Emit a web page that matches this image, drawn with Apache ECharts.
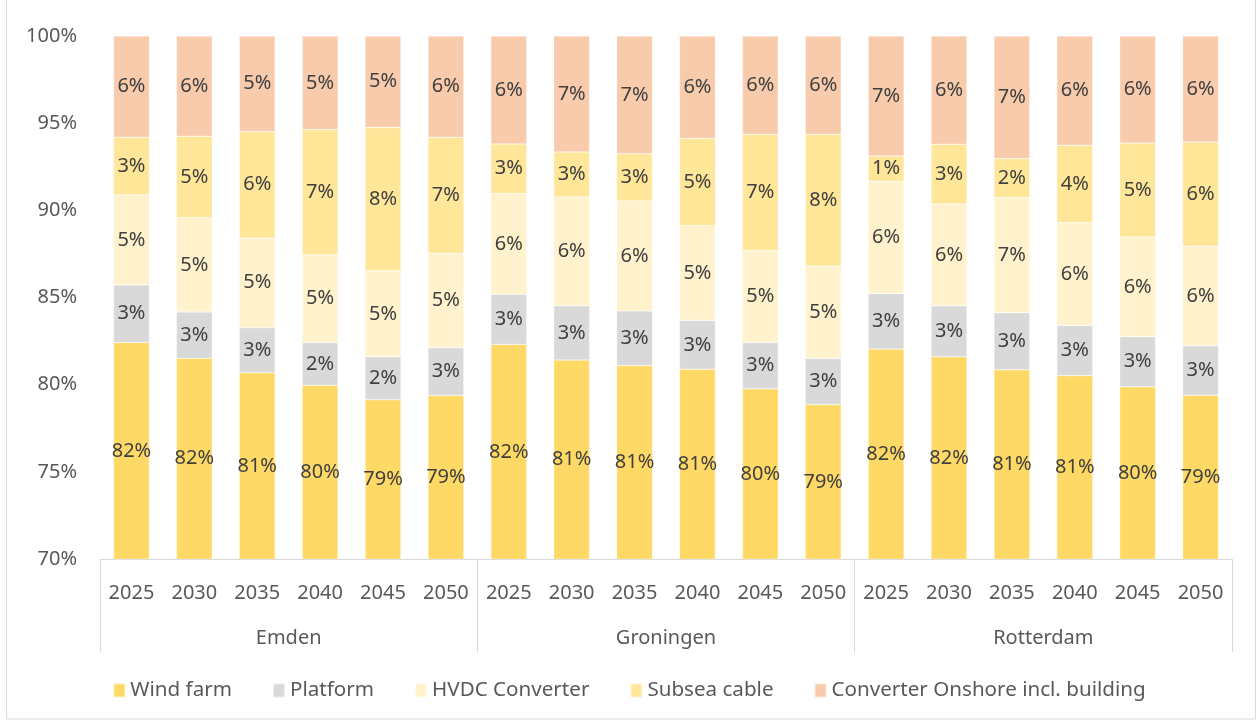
<!DOCTYPE html>
<html>
<head>
<meta charset="utf-8">
<script src="https://cdn.jsdelivr.net/npm/echarts@6/dist/echarts.min.js"></script>
<style>
  html, body { margin: 0; padding: 0; background: #fff; }
  #chart { width: 1258px; height: 722px; }
</style>
</head>
<body>
<div id="chart"></div>
<script>
// Cost share by component (%), per landing point and year
const years = ['2025', '2030', '2035', '2040', '2045', '2050'];
const sites = ['Emden', 'Groningen', 'Rotterdam'];
const yTicks = { min: 70, max: 100, step: 5 };

//                Emden ........................................  Groningen ....................................  Rotterdam ....................................
const windFarm   = [82.42, 81.52, 80.69, 79.96, 79.13, 79.38,  82.31, 81.41, 81.10, 80.89, 79.76, 78.86,  82.04, 81.60, 80.85, 80.52, 79.88, 79.40];
const platform   = [ 3.30,  2.65,  2.58,  2.46,  2.47,  2.74,   2.88,  3.11,  3.13,  2.79,  2.66,  2.64,   3.18,  2.92,  3.27,  2.87,  2.87,  2.83];
const hvdc       = [ 5.16,  5.41,  5.15,  5.02,  4.93,  5.42,   5.77,  6.25,  6.31,  5.44,  5.27,  5.31,   6.45,  5.85,  6.61,  5.91,  5.72,  5.71];
const subsea     = [ 3.31,  4.67,  6.10,  7.19,  8.23,  6.65,   2.85,  2.58,  2.71,  5.01,  6.67,  7.55,   1.44,  3.42,  2.24,  4.43,  5.39,  5.98];
const onshore    = [ 5.81,  5.75,  5.48,  5.37,  5.24,  5.81,   6.19,  6.65,  6.75,  5.87,  5.64,  5.64,   6.89,  6.21,  7.03,  6.27,  6.14,  6.08];

const seriesDefs = [
  { name: 'Wind farm', data: windFarm, color: '#FFD966' },
  { name: 'Platform', data: platform, color: '#D9D9D9' },
  { name: 'HVDC Converter', data: hvdc, color: '#FFF2CC' },
  { name: 'Subsea cable', data: subsea, color: '#FFE699' },
  { name: 'Converter Onshore incl. building', data: onshore, color: '#F8CBAD' }
];

const categories = [];
sites.forEach(() => years.forEach(y => categories.push(y)));

const FONT = 'Noto Sans';
const TEXT = '#595959';

const chart = echarts.init(document.getElementById('chart'), null, { renderer: 'canvas' });

chart.setOption({
  animation: false,
  backgroundColor: '#fff',
  textStyle: { fontFamily: FONT },
  grid: { left: 100, right: 26, top: 36, bottom: 163 },
  legend: {
    bottom: 16,
    left: 'center',
    icon: 'rect',
    itemWidth: 12,
    itemHeight: 14,
    itemGap: 40,
    textStyle: { fontFamily: FONT, fontSize: 20.6, color: TEXT },
    data: seriesDefs.map(s => s.name)
  },
  xAxis: [
    {
      type: 'category',
      data: categories,
      position: 'bottom',
      axisLine: { show: true, lineStyle: { color: '#D9D9D9', width: 1 } },
      axisTick: { show: false },
      axisLabel: { fontFamily: FONT, fontSize: 20, color: TEXT, margin: 24, interval: 0 }
    },
    {
      type: 'category',
      data: sites,
      position: 'bottom',
      offset: 93,
      axisLine: { show: false },
      axisTick: { show: true, inside: true, length: 93, lineStyle: { color: '#D9D9D9', width: 1 } },
      axisLabel: { inside: true, margin: 4, fontFamily: FONT, fontSize: 20, color: TEXT }
    }
  ],
  yAxis: {
    type: 'value',
    min: yTicks.min,
    max: yTicks.max,
    interval: yTicks.step,
    axisLine: { show: false },
    axisTick: { show: false },
    splitLine: { show: false },
    axisLabel: { formatter: '{value}%', fontFamily: FONT, fontSize: 20, color: TEXT, margin: 23 }
  },
  graphic: [
    {
      type: 'rect',
      silent: true,
      shape: { x: 6.5, y: -2, width: 1249, height: 721 },
      style: { fill: 'none', stroke: '#D9D9D9', lineWidth: 1 }
    }
  ],
  series: seriesDefs.map(s => ({
    name: s.name,
    type: 'bar',
    stack: 'total',
    xAxisIndex: 0,
    barCategoryGap: '43%',
    clip: true,
    data: s.data,
    itemStyle: { color: s.color, borderColor: 'rgba(255,255,255,0.6)', borderWidth: 0.5 },
    label: {
      show: true,
      position: 'inside',
      fontFamily: FONT,
      fontSize: 20,
      color: '#404040',
      formatter: p => Math.round(p.value) + '%'
    }
  }))
});
</script>
</body>
</html>
